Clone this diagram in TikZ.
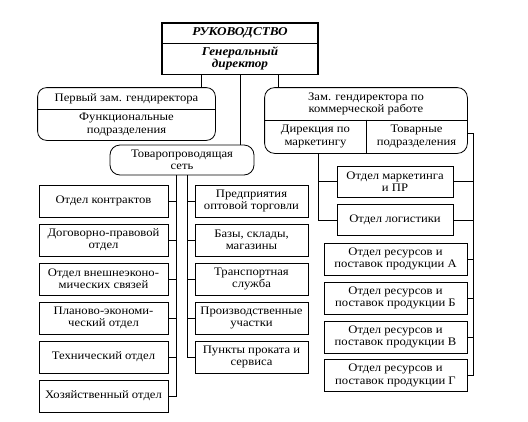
\documentclass[tikz,border=0pt]{standalone}
\usepackage{fontspec}
\setmainfont[FakeStretch=1.1]{Liberation Serif}
\usepackage{tikz}
\usetikzlibrary{calc,positioning}
\newcommand{\deptat}[4][]{\node[dept,#1] (#2) at #3 {#4} ;}
\newcommand{\hookto}[2]{\draw (#1) -- (#1 -| #2) ;}

\begin{document}
\begin{tikzpicture}[x=1pt,y=-1pt,line width=0.8pt,
        font=\fontsize{11.5}{12.3}\selectfont,
        dept/.style={draw, align=center, inner sep=1pt, minimum height=32},
        part/.style={align=center, inner sep=1pt},
        leftcol/.style={minimum width=129},
        midcol/.style={minimum width=113},
        markcol/.style={minimum width=116, minimum height=31},
        rescol/.style={minimum width=143}]
        \useasboundingbox (0,0) rectangle (528,421);
        % head
        \node[part, font=\fontsize{12}{13}\selectfont\bfseries\itshape, minimum width=155, minimum height=20] (Ruk) at (240,33) {РУКОВОДСТВО};
        \node[part, font=\fontsize{12}{12.5}\selectfont\bfseries\itshape, minimum width=155, minimum height=31] (Gen) at (240,58.5) {Генеральный\\директор};
        \draw[line width=1.8pt] (Ruk.north west) rectangle (Gen.south east);
        \draw (Ruk.south west) -- (Ruk.south east);
        % first deputy
        \node[part, minimum width=177, minimum height=21] (Perv) at (126.5,98.5) {Первый зам. гендиректора};
        \node[part, minimum width=177, minimum height=31] (Func) at (126.5,124.5) {Функциональные\\подразделения};
        \draw[rounded corners=9] (Perv.north west) rectangle (Func.south east);
        \draw (Perv.south west) -- (Perv.south east);
        % commercial deputy
        \node[part, minimum width=202, minimum height=32] (Zam) at (366,104) {Зам. гендиректора по\\коммерческой работе};
        \node[part, minimum width=101, minimum height=33] (Dir) at (315.5,136.5) {Дирекция по\\маркетингу};
        \node[part, minimum width=101, minimum height=33] (Tov) at (416.5,136.5) {Товарные\\подразделения};
        \draw[rounded corners=10] (Zam.north west) rectangle (Tov.south east);
        \draw (Zam.south west) -- (Zam.south east);
        \draw (Dir.north east) -- (Dir.south east);
        % network
        \deptat[rounded corners=10, minimum width=144, minimum height=30]{Tovar}{(182,160)}{Товаропроводящая\\сеть}
        % left column
        \deptat[leftcol]{Kontr}{(103.5,201)}{Отдел контрактов}
        \deptat[leftcol]{Dogov}{(103.5,240)}{Договорно-правовой\\отдел}
        \deptat[leftcol]{Vnesh}{(103.5,279)}{Отдел внешнеэконо-\\мических связей}
        \deptat[leftcol]{Plan}{(103.5,318)}{Планово-экономи-\\ческий отдел}
        \deptat[leftcol]{Tekh}{(103.5,357)}{Технический отдел}
        \deptat[leftcol]{Khoz}{(103.5,396)}{Хозяйственный отдел}
        % middle column
        \deptat[midcol]{Opt}{(251.5,201)}{Предприятия\\оптовой торговли}
        \deptat[midcol]{Bazy}{(251.5,240)}{Базы, склады,\\магазины}
        \deptat[midcol]{Trans}{(251.5,279)}{Транспортная\\служба}
        \deptat[midcol]{Proizv}{(251.5,318)}{Производственные\\участки}
        \deptat[midcol]{Prokat}{(251.5,357)}{Пункты проката и\\сервиса}
        % right column
        \deptat[markcol]{Mark}{(395,181.5)}{Отдел маркетинга\\и ПР}
        \deptat[markcol]{Logist}{(395,220)}{Отдел логистики}
        \deptat[rescol]{ResA}{(395.5,259)}{Отдел ресурсов и\\поставок продукции А}
        \deptat[rescol]{ResB}{(395.5,298)}{Отдел ресурсов и\\поставок продукции Б}
        \deptat[rescol]{ResV}{(395.5,337)}{Отдел ресурсов и\\поставок продукции В}
        \deptat[rescol]{ResG}{(395.5,375.5)}{Отдел ресурсов и\\поставок продукции Г}
        % buses
        \coordinate (LBus) at (176,0);
        \coordinate (MBus) at (187,0);
        \coordinate (DBus) at (318,0);
        \coordinate (RBus) at (473,0);
        % links from the head
        \draw ([xshift=-39]Gen.south) -- ([xshift=-39]Gen.south |- Perv.north);
        \draw (Gen.south) -- (Gen.south |- Tovar.north);
        \draw ([xshift=38]Gen.south) -- ([xshift=38]Gen.south |- Zam.north);
        % links below
        \draw (Tovar.south -| LBus) -- (Khoz.east -| LBus) -- (Khoz.east);
        \foreach \d in {Kontr,Dogov,Vnesh,Plan,Tekh} {\hookto{\d.east}{LBus}}
        \draw (Tovar.south -| MBus) -- (Prokat.west -| MBus) -- (Prokat.west);
        \foreach \d in {Opt,Bazy,Trans,Proizv} {\hookto{\d.west}{MBus}}
        \draw (Dir.south -| DBus) -- (Logist.west -| DBus) -- (Logist.west);
        \hookto{Mark.west}{DBus}
        \draw ([yshift=3]Tov.east) -- ([yshift=3]Tov.east -| RBus) -- (ResG.east -| RBus) -- (ResG.east);
        \foreach \d in {Mark,Logist,ResA,ResB,ResV} {\hookto{\d.east}{RBus}}
    \end{tikzpicture}
\end{document}
